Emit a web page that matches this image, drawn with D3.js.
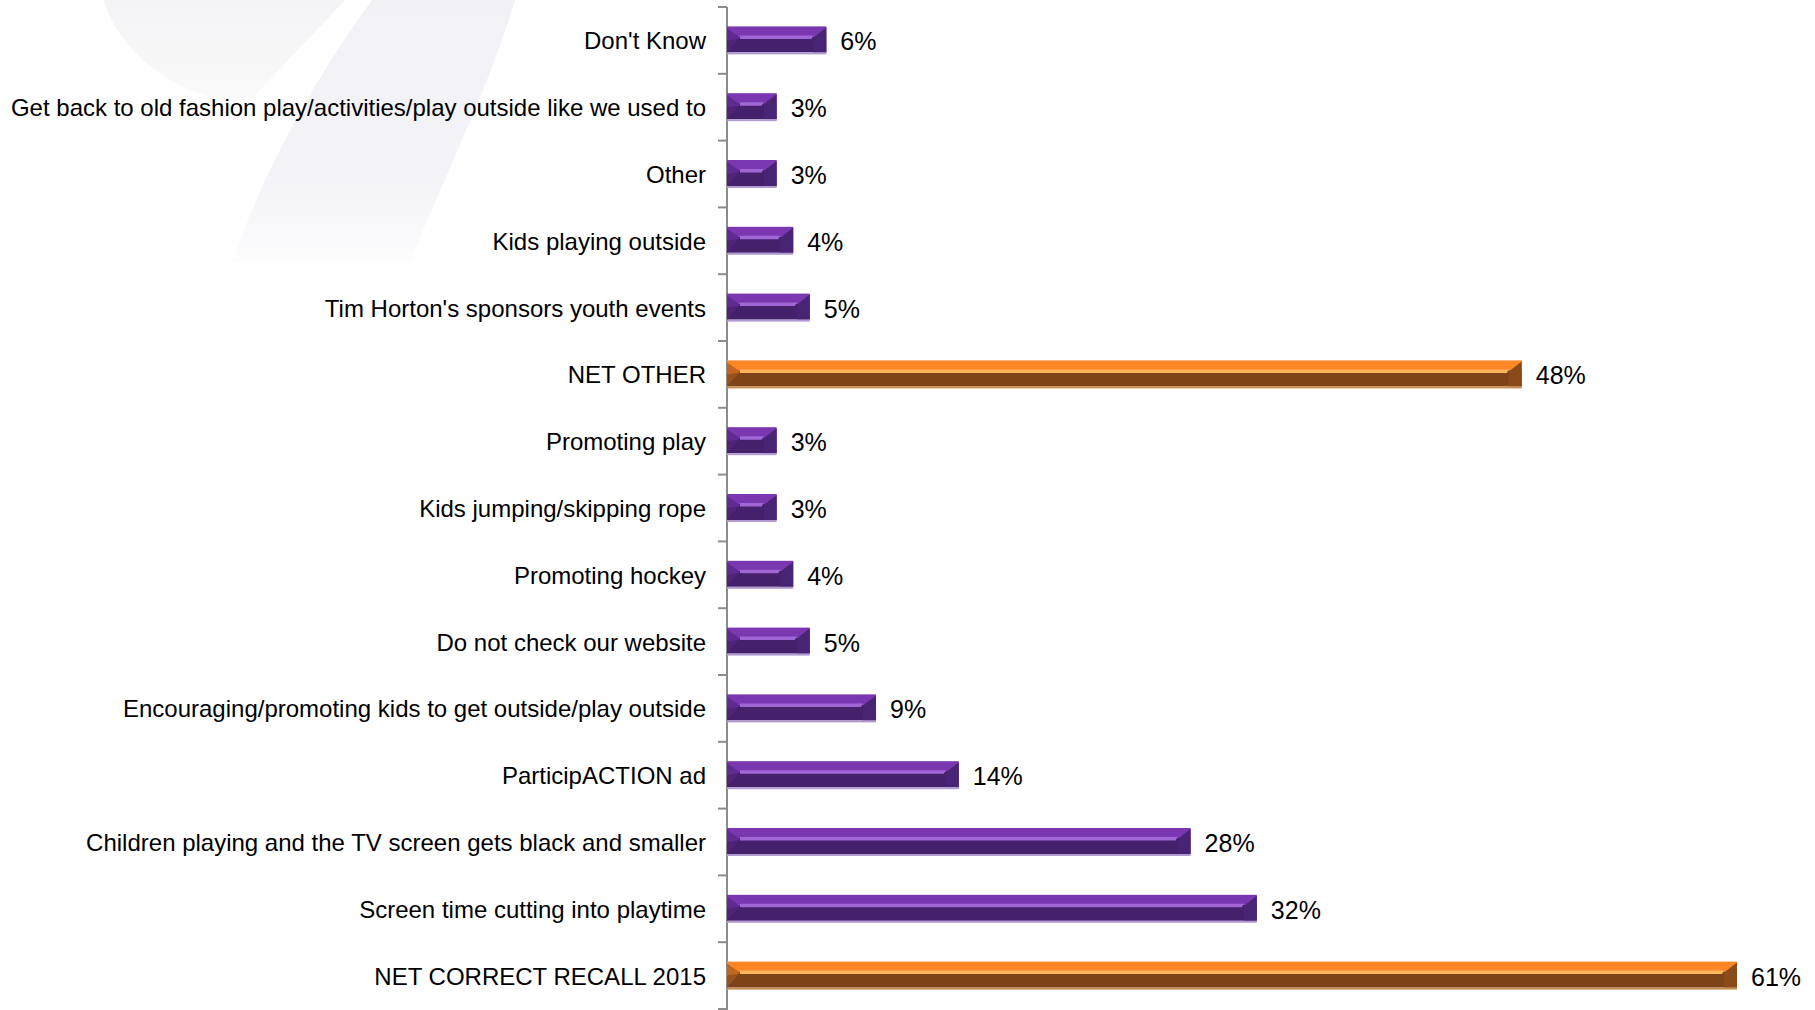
<!DOCTYPE html>
<html>
<head>
<meta charset="utf-8">
<script src="https://cdn.jsdelivr.net/npm/d3@7"></script>
<style>
  html, body { margin: 0; padding: 0; background: #ffffff; }
  svg { display: block; }
  text { font-family: "Liberation Sans", Arial, sans-serif; fill: #000; }
</style>
</head>
<body>
<div id="chart"></div>
<script>
// Survey responses: unaided recall of the ad message (% of respondents)
const categories = [
  "Don't Know",
  "Get back to old fashion play/activities/play outside like we used to",
  "Other",
  "Kids playing outside",
  "Tim Horton's sponsors youth events",
  "NET OTHER",
  "Promoting play",
  "Kids jumping/skipping rope",
  "Promoting hockey",
  "Do not check our website",
  "Encouraging/promoting kids to get outside/play outside",
  "ParticipACTION ad",
  "Children playing and the TV screen gets black and smaller",
  "Screen time cutting into playtime",
  "NET CORRECT RECALL 2015"
];
const values = [6, 3, 3, 4, 5, 48, 3, 3, 4, 5, 9, 14, 28, 32, 61];
// Summary rows drawn in orange
const netRows = ["NET OTHER", "NET CORRECT RECALL 2015"];

const W = 1815, H = 1010;
const svg = d3.select("#chart").append("svg").attr("width", W).attr("height", H);

// Faint logo swoosh in the background
const defs = svg.append("defs");
const fade = defs.append("linearGradient").attr("id", "wmFade")
  .attr("x1", 0).attr("y1", 0).attr("x2", 0).attr("y2", 1);
fade.append("stop").attr("offset", "0%").attr("stop-color", "#f1f1f6");
fade.append("stop").attr("offset", "70%").attr("stop-color", "#f4f4f8");
fade.append("stop").attr("offset", "100%").attr("stop-color", "#fdfdfe");
const blobFade = defs.append("linearGradient").attr("id", "wmBlob")
  .attr("x1", 0).attr("y1", 0).attr("x2", 0).attr("y2", 1);
blobFade.append("stop").attr("offset", "0%").attr("stop-color", "#f4f4f6");
blobFade.append("stop").attr("offset", "100%").attr("stop-color", "#fafafb");

const wm = svg.append("g");
wm.append("path").attr("fill", "url(#wmBlob)").attr("d",
  "M103,0 C118,45 160,85 215,98 C232,101 245,101 252,99 C285,62 318,30 345,0 Z");
wm.append("path").attr("fill", "url(#wmFade)").attr("d",
  "M372,0 L515,0 C490,85 445,175 410,262 L232,262 C268,160 318,75 372,0 Z");

const x = d3.scaleLinear().domain([0, 61]).range([727, 1737]);
const y = d3.scaleBand().domain(categories).range([7, 1009]).padding(0);

const axisX = x(0);
const bw = y.bandwidth();
const barH = 28;

// Category axis: vertical line with ticks at band boundaries
const axisG = svg.append("g").attr("stroke", "#8c8c8c").attr("stroke-width", 2);
axisG.append("line").attr("x1", axisX).attr("x2", axisX).attr("y1", y.range()[0]).attr("y2", H);
const bounds = categories.map(c => y(c)).concat([y.range()[1]]);
axisG.selectAll("line.tick").data(bounds).join("line")
  .attr("class", "tick")
  .attr("x1", axisX - 9).attr("x2", axisX)
  .attr("y1", d => d).attr("y2", d => d);

const palettes = {
  purple: { top: "#7a37b0", hi: "#a066d6", bottom: "#45206b", left: "#5f2a92", right: "#4a2474", rim: "#b29bd2" },
  orange: { top: "#fd8726", hi: "#ffb45e", bottom: "#7e4419", left: "#c2661f", right: "#8a4a1a", rim: "#c98c52" }
};

const rows = categories.map((c, i) => ({ cat: c, v: values[i], net: netRows.includes(c) }));

svg.append("g").selectAll("g.bar").data(rows).join("g").attr("class", "bar")
  .each(function (d) {
    const g = d3.select(this);
    const p = d.net ? palettes.orange : palettes.purple;
    const x0 = axisX, x1 = x(d.v);
    const y0 = y(d.cat) + (bw - barH) / 2;
    const y1 = y0 + barH - 2;       // face bottom, rim below
    const cy = y0 + 10;             // highlight line
    const b = Math.min(13, (x1 - x0) / 3);
    // upper face
    g.append("rect").attr("x", x0).attr("y", y0).attr("width", x1 - x0).attr("height", cy - y0).attr("fill", p.top);
    // lower face
    g.append("rect").attr("x", x0).attr("y", cy).attr("width", x1 - x0).attr("height", y1 - cy).attr("fill", p.bottom);
    // highlight band
    g.append("path").attr("d", `M${x0 + b},${cy - 1}L${x1 - b},${cy - 1}L${x1 - b - 2},${cy + 2.5}L${x0 + b},${cy + 2.5}Z`).attr("fill", p.hi);
    // left bevel
    g.append("path").attr("d", `M${x0},${y0 + 2}L${x0 + b},${cy + 1}L${x0},${y1}Z`).attr("fill", p.left);
    g.append("path").attr("d", `M${x0},${y0 + (cy - y0) + 4}L${x0 + b},${cy + 2}L${x0 + b},${cy + 3}L${x0},${y1}Z`).attr("fill", p.bottom).attr("opacity", 0.6);
    // right bevel
    g.append("path").attr("d", `M${x1},${y0 + 1}L${x1 - b},${cy + 1}L${x1 - b},${y1}L${x1},${y1}Z`).attr("fill", p.right);
    // bottom rim
    g.append("rect").attr("x", x0).attr("y", y1).attr("width", x1 - x0).attr("height", 2).attr("fill", p.rim);
    // value label
    g.append("text").attr("x", x1 + 14).attr("y", y0 + barH / 2 + 1).attr("dy", "0.36em")
      .attr("font-size", 25).text(d.v + "%");
  });

// Category labels
svg.append("g").selectAll("text").data(rows).join("text")
  .attr("x", 706).attr("y", d => y(d.cat) + bw / 2 + 1).attr("dy", "0.33em")
  .attr("text-anchor", "end").attr("font-size", 24).text(d => d.cat);
</script>
</body>
</html>
